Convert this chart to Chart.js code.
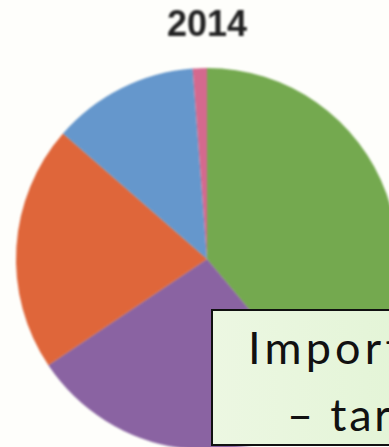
<!DOCTYPE html>
<html>
<head>
<meta charset="utf-8">
<script src="https://cdn.jsdelivr.net/npm/chart.js@4/dist/chart.umd.min.js"></script>
<style>
  html, body { margin: 0; padding: 0; width: 389px; height: 447px; overflow: hidden; background: #fefefb; }
  #wrap { position: absolute; left: 0; top: 0; width: 414px; height: 450px; }
  #pie { filter: blur(0.9px); }
  #note {
    position: absolute; left: 211px; top: 309px; width: 220px; height: 133px;
    border: 2px solid #111;
    background: linear-gradient(to right, #ecf7e2, #e2f4d5);
    overflow: hidden;
  }
  #note span {
    position: absolute; white-space: nowrap;
    font-family: "Lato", "Open Sans", sans-serif; font-weight: 400;
    font-size: 45px; line-height: 45px; color: #111; letter-spacing: 2.8px;
  }
  #l1 { letter-spacing: 4.2px !important; }
</style>
</head>
<body>
<div id="wrap"><canvas id="pie" width="414" height="450"></canvas></div>
<div id="note"><span id="l1" style="left:35px; top:14px;">Import</span><span id="l2" style="left:74px; top:81px;">– tar</span></div>
<script>
// Shares for 2014, clockwise from the top
const title = "2014";
const categories = ["A", "B", "C", "D", "E"];
const shares = [38.9, 26.7, 20.8, 12.4, 1.2];
const sliceColors = ["#74a94f", "#8a63a2", "#df663a", "#6597cc", "#d4698e"];

new Chart(document.getElementById("pie"), {
  type: "pie",
  data: {
    labels: categories,
    datasets: [{
      data: shares,
      backgroundColor: sliceColors,
      borderWidth: 0,
      hoverOffset: 0
    }]
  },
  options: {
    responsive: false,
    animation: false,
    events: [],
    layout: { padding: 0 },
    plugins: {
      legend: { display: false },
      tooltip: { enabled: false },
      title: {
        display: true,
        text: title,
        color: "#222",
        font: { family: "'Liberation Sans', Arial, sans-serif", size: 36, weight: "bold", lineHeight: 1.2 },
        padding: { top: 4, bottom: 20.8 }
      }
    }
  }
});
</script>
</body>
</html>
